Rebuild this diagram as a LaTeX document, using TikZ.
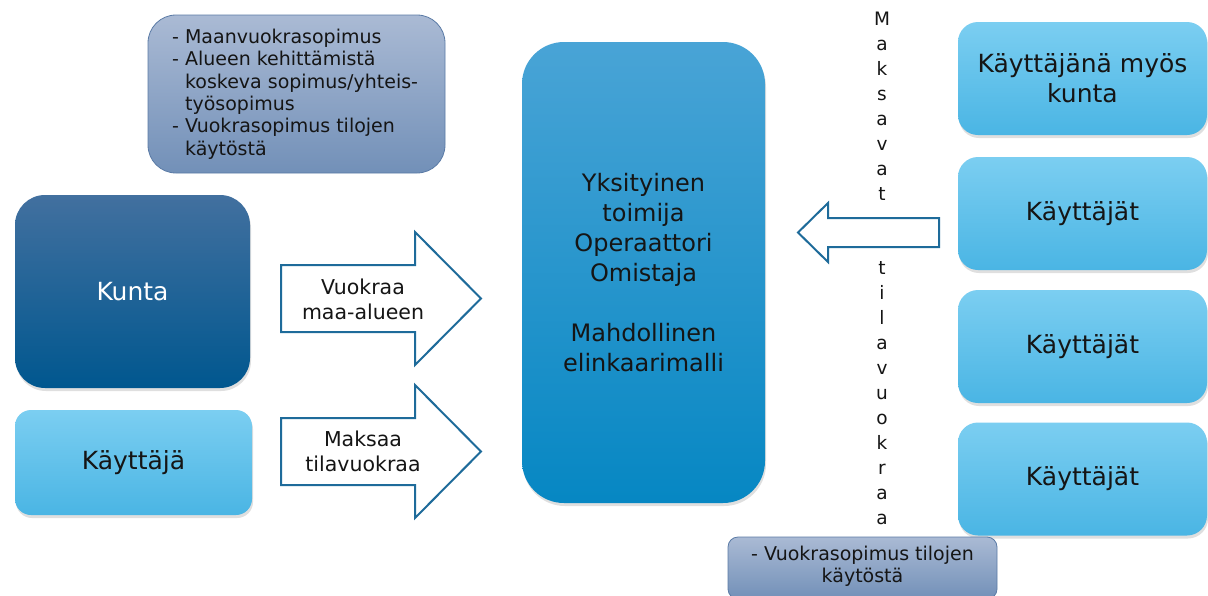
\documentclass[tikz,border=0pt]{standalone}
\usepackage{fontspec}
\setmainfont{DejaVu Sans}
\usetikzlibrary{shadows}
\definecolor{noteTop}{HTML}{AABAD4}
\definecolor{noteBot}{HTML}{7290B8}
\definecolor{noteLine}{HTML}{5B7BA6}
\definecolor{darkTop}{HTML}{42709F}
\definecolor{darkBot}{HTML}{00578F}
\definecolor{lightTop}{HTML}{7BCEF1}
\definecolor{lightBot}{HTML}{4AB5E4}
\definecolor{mainTop}{HTML}{49A4D6}
\definecolor{mainBot}{HTML}{0687C3}
\definecolor{arrowLine}{HTML}{1E6B9A}
\definecolor{txt}{HTML}{151515}
\begin{document}
\begin{tikzpicture}[x=1pt,y=-1pt,
  shade box/.style={rectangle, inner sep=0pt, text=txt, align=center,
    drop shadow={opacity=0.25, shadow xshift=1pt, shadow yshift=-3pt}},
  darkbox/.style={shade box, top color=darkTop, bottom color=darkBot, text=white},
  lightbox/.style={shade box, top color=lightTop, bottom color=lightBot},
  mainbox/.style={shade box, top color=mainTop, bottom color=mainBot},
  notebox/.style={rectangle, inner sep=0pt, top color=noteTop, bottom color=noteBot, draw=noteLine, line width=0.8pt},
  blockarrow/.style={draw=arrowLine, line width=2pt, fill=white, line join=miter},
  bigtext/.style={font=\fontsize{25}{30}\selectfont},
  maintext/.style={font=\fontsize{24}{30}\selectfont},
  notetext/.style={font=\fontsize{19}{22.4}\selectfont, text=txt},
  arrowtext/.style={font=\fontsize{20.5}{25}\selectfont, text=txt, align=center},
  vertext/.style={font=\fontsize{18.5}{25}\selectfont, text=txt, align=center, inner sep=0pt}
]
\useasboundingbox (0,0) rectangle (1208,595);
\fill[white] (0,0) rectangle (1208,595);

% top-left note
\node[notebox, rounded corners=28pt, minimum width=297pt, minimum height=158pt] (note1) at (296.5,94) {};
\node[notetext, anchor=west, align=left, inner sep=0pt] (note1t) at (172,94)
  {- Maanvuokrasopimus\\
   - Alueen kehittämistä\\
   \phantom{- }koskeva sopimus/yhteis-\\
   \phantom{- }työsopimus\\
   - Vuokrasopimus tilojen\\
   \phantom{- }käytöstä};

% left boxes
\node[darkbox, bigtext, rounded corners=30pt, minimum width=235pt, minimum height=193pt] (kunta) at (132.5,291.5) {Kunta};
\node[lightbox, bigtext, rounded corners=16pt, minimum width=237pt, minimum height=105pt] (kayttaja) at (133.5,462.5) {Käyttäjä};

% main box
\node[mainbox, maintext, rounded corners=42pt, minimum width=243pt, minimum height=461pt] (main) at (643.5,272.5)
  {Yksityinen\\toimija\\Operaattori\\Omistaja\\[30pt]Mahdollinen\\elinkaarimalli};

% block arrows towards main box
\draw[blockarrow] (281,265) -- (415,265) -- (415,232) -- (481,298.5) -- (415,365) -- (415,332) -- (281,332) -- cycle;
\node[arrowtext] (a1t) at (363,299.5) {Vuokraa\\maa-alueen};
\draw[blockarrow] (281,418) -- (415,418) -- (415,385) -- (481,451.5) -- (415,518) -- (415,485) -- (281,485) -- cycle;
\node[arrowtext] (a2t) at (363,451) {Maksaa\\tilavuokraa};

% arrow from users
\draw[blockarrow] (939,218) -- (828,218) -- (828,203) -- (798,232.5) -- (828,262) -- (828,247) -- (939,247) -- cycle;

% vertical text
\node[vertext] (v1) at (882,106) {M\\a\\k\\s\\a\\v\\a\\t};
\node[vertext] (v2) at (882,393) {t\\i\\l\\a\\v\\u\\o\\k\\r\\a\\a};

% right boxes
\node[lightbox, bigtext, rounded corners=20pt, minimum width=249pt, minimum height=113pt] (r1) at (1082.5,78.5) {Käyttäjänä myös\\kunta};
\node[lightbox, bigtext, rounded corners=20pt, minimum width=249pt, minimum height=113pt] (r2) at (1082.5,213.5) {Käyttäjät};
\node[lightbox, bigtext, rounded corners=20pt, minimum width=249pt, minimum height=113pt] (r3) at (1082.5,346.5) {Käyttäjät};
\node[lightbox, bigtext, rounded corners=20pt, minimum width=249pt, minimum height=113pt] (r4) at (1082.5,479) {Käyttäjät};

% bottom note
\node[notebox, rounded corners=10pt, minimum width=269pt, minimum height=62pt] (note2) at (862.5,568) {};
\node[notetext, align=center, inner sep=0pt] (note2t) at (862.5,566.5) {- Vuokrasopimus tilojen\\käytöstä};
\end{tikzpicture}
\end{document}
